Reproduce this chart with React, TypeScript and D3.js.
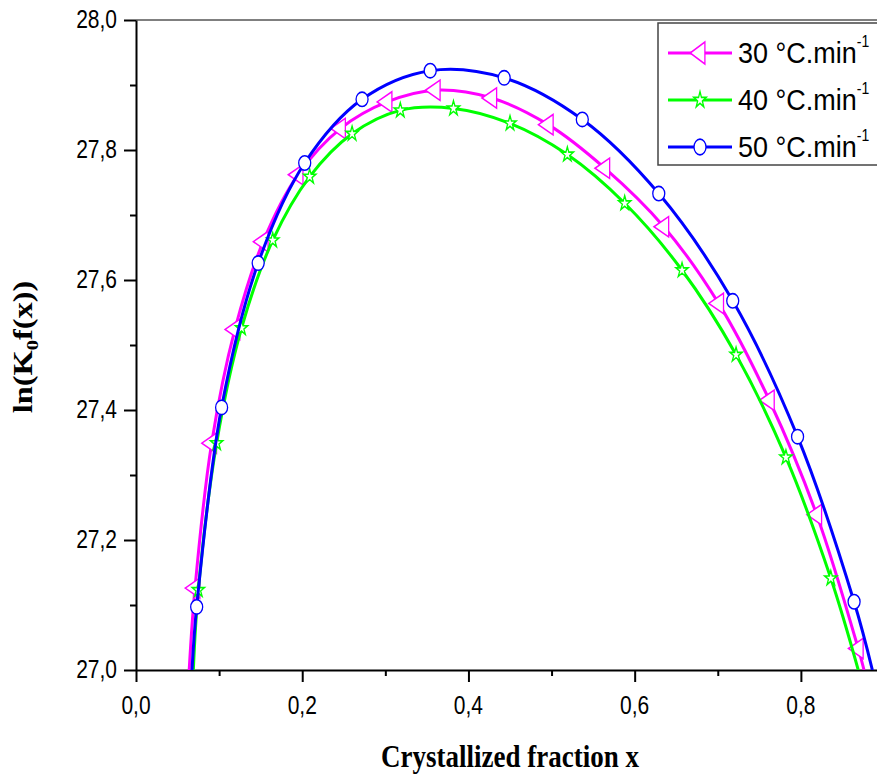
import * as d3 from "d3";
import { useEffect, useRef } from "react";

// axis ticks
const xMajorTicks = [0.0, 0.2, 0.4, 0.6, 0.8];
const xMinorTicks = [0.1, 0.3, 0.5, 0.7];
const yMajorTicks = [27.0, 27.2, 27.4, 27.6, 27.8, 28.0];
const yMinorTicks = [27.1, 27.3, 27.5, 27.7, 27.9];

const rates = ["30", "40", "50"];
const colors = ["#ff00ff", "#00ff00", "#0000ff"];

// values; the first and last points are where each
// curve runs into the bottom axis (no marker drawn there)
const x30 = [0.064, 0.071, 0.091, 0.119, 0.153, 0.195, 0.246, 0.302, 0.36, 0.428, 0.496, 0.564, 0.635, 0.701, 0.762, 0.819, 0.869, 0.876];
const y30 = [27.0, 27.126, 27.349, 27.524, 27.659, 27.762, 27.833, 27.874, 27.892, 27.88, 27.839, 27.772, 27.682, 27.564, 27.415, 27.239, 27.033, 27.0];

const x40 = [0.069, 0.075, 0.097, 0.127, 0.1645, 0.209, 0.26, 0.318, 0.382, 0.45, 0.519, 0.588, 0.657, 0.722, 0.782, 0.836, 0.869];
const y40 = [27.0, 27.123, 27.349, 27.526, 27.661, 27.759, 27.825, 27.861, 27.864, 27.841, 27.793, 27.718, 27.615, 27.485, 27.327, 27.141, 27.0];

const x50 = [0.0674, 0.073, 0.103, 0.147, 0.203, 0.272, 0.354, 0.443, 0.537, 0.629, 0.718, 0.796, 0.864, 0.886];
const y50 = [27.0, 27.097, 27.404, 27.626, 27.78, 27.878, 27.922, 27.911, 27.847, 27.733, 27.568, 27.359, 27.105, 27.0];

const W = 877;
const H = 776;
const SY = 1.2; // the source picture is a bit stretched vertically

const sansFont = "'Liberation Sans', Arial, sans-serif";
const serifFont = "'Liberation Serif', 'Times New Roman', serif";

const App = () => {
    const ref = useRef<SVGSVGElement>(null);

    useEffect(() => {
        const svg = d3.select(ref.current);
        svg.selectAll("*").remove();

        const x = d3.scaleLinear().domain([0, 0.9]).range([136, 884]);
        const y = d3.scaleLinear().domain([27, 28]).range([670, 20]);
        const fmt = d3
            .formatLocale({ decimal: ",", thousands: ".", grouping: [3], currency: ["", ""] })
            .format(".1f");

        svg.append("defs")
            .append("clipPath")
            .attr("id", "plot-clip")
            .append("rect")
            .attr("x", 136)
            .attr("y", 20)
            .attr("width", 748)
            .attr("height", 650);

        // thin frame top / right
        svg.append("line")
            .attr("x1", 136).attr("x2", 884).attr("y1", 20).attr("y2", 20)
            .attr("stroke", "#000").attr("stroke-width", 1);
        svg.append("line")
            .attr("x1", 884).attr("x2", 884).attr("y1", 20).attr("y2", 670)
            .attr("stroke", "#000").attr("stroke-width", 1);

        const styleAxis = (g: any) => {
            g.selectAll("line").attr("stroke", "#000").attr("stroke-width", 2);
            g.select(".domain").attr("stroke", "#000").attr("stroke-width", 2);
            g.selectAll("text").remove();
        };

        // X axis (minor + major)
        svg.append("g")
            .attr("transform", "translate(0,670)")
            .call(d3.axisBottom(x).tickValues(xMinorTicks).tickSize(6).tickFormat(() => ""))
            .call(styleAxis)
            .call((g) => g.select(".domain").remove());
        svg.append("g")
            .attr("transform", "translate(0,670)")
            .call(d3.axisBottom(x).tickValues(xMajorTicks).tickSizeInner(12).tickSizeOuter(0).tickFormat(() => ""))
            .call(styleAxis);

        // Y axis (minor + major)
        svg.append("g")
            .attr("transform", "translate(136,0)")
            .call(d3.axisLeft(y).tickValues(yMinorTicks).tickSize(6).tickFormat(() => ""))
            .call(styleAxis)
            .call((g) => g.select(".domain").remove());
        svg.append("g")
            .attr("transform", "translate(136,0)")
            .call(d3.axisLeft(y).tickValues(yMajorTicks).tickSizeInner(12).tickSizeOuter(0).tickFormat(() => ""))
            .call(styleAxis);

        // tick labels
        svg.append("g")
            .selectAll("text")
            .data(xMajorTicks)
            .join("text")
            .attr("transform", (d) => `translate(${x(d)},714) scale(1,${SY})`)
            .attr("text-anchor", "middle")
            .style("font-family", sansFont)
            .style("font-size", "21px")
            .attr("fill", "#000")
            .text((d) => fmt(d));
        svg.append("g")
            .selectAll("text")
            .data(yMajorTicks)
            .join("text")
            .attr("transform", (d) => `translate(117,${y(d) + 7.5}) scale(1,${SY})`)
            .attr("text-anchor", "end")
            .style("font-family", sansFont)
            .style("font-size", "21px")
            .attr("fill", "#000")
            .text((d) => fmt(d));

        // axis titles
        svg.append("text")
            .attr("transform", `translate(510,767) scale(1,${SY})`)
            .attr("text-anchor", "middle")
            .style("font-family", serifFont)
            .style("font-weight", "bold")
            .style("font-size", "27px")
            .attr("fill", "#000")
            .text("Crystallized fraction x");

        const yTitle = svg.append("text")
            .attr("transform", `translate(32,347) rotate(-90) scale(${SY},1)`)
            .attr("text-anchor", "middle")
            .style("font-family", serifFont)
            .style("font-weight", "bold")
            .style("font-size", "27px")
            .attr("fill", "#000");
        yTitle.append("tspan").text("ln(K");
        yTitle.append("tspan").attr("dy", 6).style("font-size", "17px").text("0");
        yTitle.append("tspan").attr("dy", -6).text("f(x))");

        // series
        const series = [
            { xs: x30, ys: y30, symbol: d3.symbolTriangle, size: 125, rot: -90 },
            { xs: x40, ys: y40, symbol: d3.symbolStar, size: 47, rot: 0 },
            { xs: x50, ys: y50, symbol: d3.symbolCircle, size: 113, rot: 0 },
        ];

        const plot = svg.append("g").attr("clip-path", "url(#plot-clip)");
        series.forEach((s, k) => {
            const line = d3
                .line<number>()
                .x((d) => x(d))
                .y((_, i) => y(s.ys[i]))
                .curve(d3.curveCatmullRom.alpha(0.5));
            plot.append("path")
                .attr("d", line(s.xs))
                .attr("fill", "none")
                .attr("stroke", colors[k])
                .attr("stroke-width", 3);

            const pts = s.xs.slice(1, -1).map((v, i) => [v, s.ys[i + 1]]);
            plot.selectAll(`.m${k}`)
                .data(pts)
                .join("path")
                .attr("class", `m${k}`)
                .attr("transform", (d) => `translate(${x(d[0])},${y(d[1])}) scale(1,${SY}) rotate(${s.rot})`)
                .attr("d", d3.symbol(s.symbol, s.size)())
                .attr("fill", "#fff")
                .attr("stroke", colors[k])
                .attr("stroke-width", 1.3);
        });

        // legend
        const legend = svg.append("g");
        legend.append("rect")
            .attr("x", 658).attr("y", 23).attr("width", 240).attr("height", 142)
            .attr("fill", "#fff").attr("stroke", "#444").attr("stroke-width", 1.5);
        series.forEach((s, k) => {
            const ly = 53 + k * 47;
            legend.append("line")
                .attr("x1", 668).attr("x2", 732).attr("y1", ly).attr("y2", ly)
                .attr("stroke", colors[k]).attr("stroke-width", 3);
            legend.append("path")
                .attr("transform", `translate(700,${ly}) scale(1,1.3) rotate(${s.rot})`)
                .attr("d", d3.symbol(s.symbol, s.size)())
                .attr("fill", "#fff")
                .attr("stroke", colors[k])
                .attr("stroke-width", 1.3);
            const t = legend.append("text")
                .attr("transform", `translate(738,${ly + 10}) scale(1,1.12)`)
                .style("font-family", sansFont)
                .style("font-size", "27px")
                .attr("fill", "#000");
            t.append("tspan").text(`${rates[k]} °C.min`);
            t.append("tspan").attr("dy", -14).style("font-size", "14px").text("-1");
        });
    }, []);

    return (
        <svg
            ref={ref}
            width={W}
            height={H}
            style={{ position: "absolute", left: 0, top: 0, background: "#fff", display: "block" }}
        />
    );
};

export default App;
